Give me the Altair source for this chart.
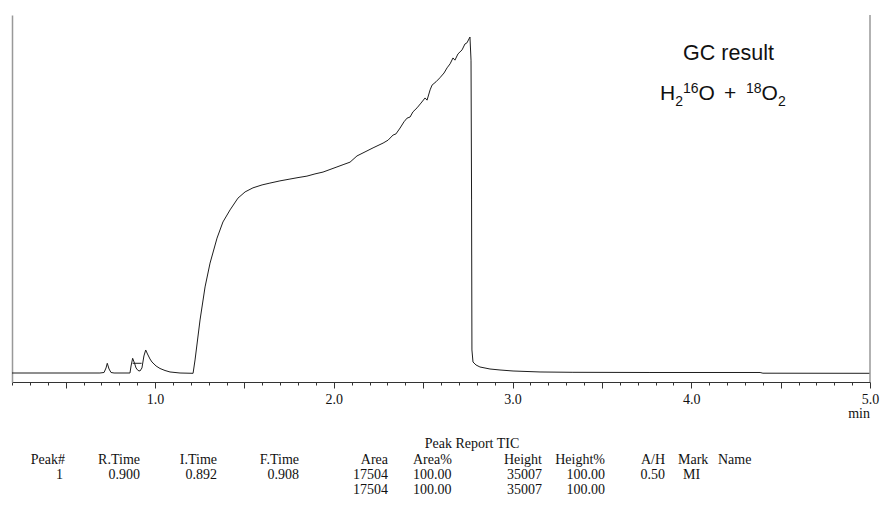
import altair as alt
import pandas as pd

# ---- chromatogram trace (time in min, signal in relative units 0-100) ----
time = [0.200, 0.692, 0.715, 0.726, 0.733, 0.743, 0.754, 0.771, 0.860, 0.866,
        0.875, 0.885, 0.894, 0.905, 0.916, 0.927, 0.938, 0.948, 0.958, 0.972,
        0.983, 1.006, 1.028, 1.056, 1.084, 1.140, 1.213, 1.224, 1.252, 1.280,
        1.308, 1.347, 1.380, 1.420, 1.464, 1.504, 1.548, 1.599, 1.643, 1.699,
        1.755, 1.800, 1.850, 1.895, 1.940, 1.979, 2.018, 2.057, 2.091, 2.130,
        2.175, 2.220, 2.276, 2.304, 2.332, 2.348, 2.371, 2.393, 2.410, 2.427,
        2.443, 2.466, 2.488, 2.511, 2.522, 2.539, 2.550, 2.572, 2.594, 2.617,
        2.634, 2.651, 2.667, 2.678, 2.695, 2.718, 2.734, 2.745, 2.762, 2.768,
        2.771, 2.773, 2.779, 2.796, 2.818, 2.874, 2.930, 3.003, 3.154, 3.338,
        3.769, 4.385, 4.401, 5.000]
signal = [2.45, 2.45, 2.59, 3.82, 5.10, 3.54, 2.59, 2.45, 2.45, 4.36,
          6.46, 5.18, 3.82, 3.13, 3.00, 3.82, 7.09, 8.72, 7.63, 6.27,
          5.45, 4.36, 3.68, 3.13, 2.73, 2.45, 2.37, 6.00, 16.9, 25.9,
          32.4, 39.2, 43.6, 46.9, 50.1, 51.8, 52.9, 53.7, 54.2, 54.8,
          55.3, 55.7, 56.1, 56.7, 57.2, 57.9, 58.6, 59.3, 59.9, 61.6,
          62.7, 63.8, 65.1, 65.9, 67.3, 67.6, 69.2, 70.9, 71.9, 72.2,
          73.6, 74.7, 76.0, 77.4, 76.8, 79.6, 80.9, 81.8, 82.9, 84.2,
          85.6, 86.7, 88.3, 87.7, 89.4, 90.5, 92.1, 92.4, 94.0, 87.7,
          49.6, 8.72, 5.45, 4.63, 4.09, 3.54, 3.27, 3.00, 2.73, 2.64,
          2.59, 2.59, 2.40, 2.37]

# integration marker on peak 1
marker_start = [0.875]
marker_end = [0.925]
marker_level = [5.1]

# x-axis tick labels (integers only) and tick positions
tick_vals = [0.2, 0.3, 0.4, 0.5, 0.6, 0.7, 0.8, 0.9, 1.0, 1.1, 1.2, 1.3, 1.4, 1.5, 1.6, 1.7,
             1.8, 1.9, 2.0, 2.1, 2.2, 2.3, 2.4, 2.5, 2.6, 2.7, 2.8, 2.9, 3.0, 3.1, 3.2, 3.3,
             3.4, 3.5, 3.6, 3.7, 3.8, 3.9, 4.0, 4.1, 4.2, 4.3, 4.4, 4.5, 4.6, 4.7, 4.8, 4.9, 5.0]

# ---- peak report table ----
report_title = "Peak Report TIC"
headers = ["Peak#", "R.Time", "I.Time", "F.Time", "Area", "Area%", "Height", "Height%", "A/H", "Mark", "Name"]
row1 = ["1", "0.900", "0.892", "0.908", "17504", "100.00", "35007", "100.00", "0.50", "MI", ""]
row2 = ["", "", "", "", "17504", "100.00", "35007", "100.00", "", "", ""]

# layout (pixel positions of table columns / rows inside the chart view)
col_x = [53, 128, 205, 287, 376, 401, 530, 593, 653, 666, 706]
col_x_row = [51, 128, 205, 287, 376, 401, 530, 593, 653, 671, 706]
col_align = ["right", "right", "right", "right", "right", "left", "right", "right", "right", "left", "left"]
row_y = [444, 459, 474]
title_pos = (460, 428)

# annotation pieces (view pixels)
formula_main = ["H", "O", "+", "O"]
formula_main_x = [648, 686.5, 718, 749.5]
formula_sub = ["2", "2"]
formula_sub_x = [663.2, 765.9]
formula_sup = ["16", "18"]
formula_sup_x = [671, 734]

W, H = 858, 367
X_MIN, X_MAX = 0.2, 5.0

trace = pd.DataFrame({"time": time, "signal": signal})
marker = pd.DataFrame({"time": marker_start, "time2": marker_end, "signal": marker_level})
dummy = pd.DataFrame({"a": [0]})

x_scale = alt.Scale(domain=[X_MIN, X_MAX], nice=False, zero=False)
y_scale = alt.Scale(domain=[0, 100], nice=False)

x_axis = alt.Axis(values=tick_vals, title=None, grid=False,
                  labelExpr="abs(datum.value - round(datum.value)) < 0.001 ? format(datum.value, '.1f') : ''",
                  labelOverlap=False, labelFlush=False, labelBound=False,
                  labelFont="Liberation Serif", labelFontSize=14, labelColor="#111",
                  labelPadding=4,
                  tickSize={"condition": {"test": "abs(datum.value*2 - round(datum.value*2)) < 0.001", "value": 6}, "value": 3},
                  tickColor="#333", domainColor="#333", domainWidth=1)
y_axis = alt.Axis(title=None, grid=False, labels=False, ticks=False,
                  domainColor="#999", domainWidth=1.5)

line = alt.Chart(trace).mark_line(color="#1e1e1e", strokeWidth=1).encode(
    x=alt.X("time:Q", scale=x_scale, axis=x_axis),
    y=alt.Y("signal:Q", scale=y_scale, axis=y_axis),
)

mark = alt.Chart(marker).mark_rule(color="#1e1e1e", strokeWidth=1).encode(
    x=alt.X("time:Q", scale=x_scale, axis=x_axis),
    x2="time2:Q",
    y=alt.Y("signal:Q", scale=y_scale, axis=y_axis),
)

right_border = alt.Chart(dummy).mark_rule(color="#999", strokeWidth=1.5).encode(
    x=alt.value(W), y=alt.value(0), y2=alt.value(H)
)


def txt(s, x, y, size, font="Liberation Sans", align="left"):
    return alt.Chart(dummy).mark_text(font=font, fontSize=size, align=align,
                                      baseline="alphabetic", color="#111", text=s).encode(
        x=alt.value(x), y=alt.value(y))


layers = [line, mark, right_border]
layers.append(txt("GC result", 716.5, 45, 21.5, align="center"))
for s, x in zip(formula_main, formula_main_x):
    layers.append(txt(s, x, 85, 21, align="center" if s == "+" else "left"))
for s, x in zip(formula_sub, formula_sub_x):
    layers.append(txt(s, x, 91, 14))
for s, x in zip(formula_sup, formula_sup_x):
    layers.append(txt(s, x, 78, 14))

layers.append(txt("min", W, 403, 14, font="Liberation Serif", align="right"))

serif = "Liberation Serif"
layers.append(txt(report_title, title_pos[0], title_pos[1] + 5, 14, font=serif, align="center"))
for i, h in enumerate(headers):
    layers.append(txt(h, col_x[i], row_y[0] + 5, 14, font=serif, align=col_align[i]))
for r, row in enumerate([row1, row2]):
    for i, c in enumerate(row):
        if c:
            layers.append(txt(c, col_x_row[i], row_y[r + 1] + 5, 14, font=serif, align=col_align[i]))

chart = alt.layer(*layers).properties(
    width=W, height=H,
    autosize=alt.AutoSizeParams(type="none"),
    padding={"left": 12, "top": 15, "right": 11, "bottom": 125},
).configure_view(stroke=None).configure_axisX(labelOverlap=False)

chart.save("out.html", embed_options={"renderer": "svg", "actions": False})
